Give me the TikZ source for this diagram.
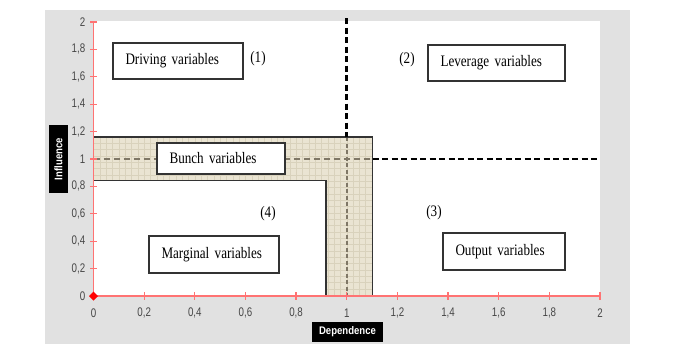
\documentclass[tikz,border=0pt]{standalone}
\usepackage{fontspec}
\setmainfont{Liberation Serif}
\newfontfamily\ticksf[FakeStretch=0.78]{Liberation Sans}
\newfontfamily\labsf[FakeStretch=0.87]{Liberation Sans}
\newfontfamily\boxserif[FakeStretch=0.82]{Liberation Serif}
\definecolor{bggray}{HTML}{E1E1E1}
\definecolor{axred}{HTML}{FF7373}
\definecolor{beige}{HTML}{EAE4D2}
\definecolor{beigegrid}{HTML}{D9D2BC}
\definecolor{dashgray}{HTML}{7F7766}
\definecolor{boxline}{HTML}{333333}
\tikzset{
  vbox/.style={draw=boxline, line width=1.2pt, fill=white, inner xsep=12.5pt, inner ysep=0pt,
    align=left, font=\boxserif\fontsize{16}{18}\selectfont},
  numlab/.style={font=\boxserif\fontsize{16}{18}\selectfont, inner sep=0pt},
  ticklab/.style={font=\ticksf\fontsize{12.5}{13}\selectfont, text=black!72, inner sep=0pt},
  axlab/.style={fill=black, text=white, inner sep=0pt, font=\labsf\bfseries\fontsize{11}{12}\selectfont},
  blackdash/.style={line width=2.6pt, dash pattern=on 6pt off 3.5pt},
  graydash/.style={dashgray, line width=2.4pt, dash pattern=on 6pt off 4pt},
  redaxis/.style={axred, line width=1.3pt}
}
\begin{document}
\begin{tikzpicture}[x=1pt,y=-1pt]
\useasboundingbox (0,0) rectangle (696,349);
\fill[white] (0,0) rectangle (696,349);
% gray panel and white plot area
\fill[bggray] (45,10) rectangle (630,344);
\fill[white] (93.5,21) rectangle (600,296);
% bunch L-shaped region
\fill[beige] (93.5,137) -- (372.7,137) -- (372.7,296) -- (326,296) -- (326,180.3) -- (93.5,180.3) -- cycle;
\begin{scope}
\clip (93.5,137) -- (372.7,137) -- (372.7,296) -- (326,296) -- (326,180.3) -- (93.5,180.3) -- cycle;
\foreach \gx in {0,...,46} { \draw[beigegrid, line width=0.4pt] ({93.5+6.33*\gx},130) -- ({93.5+6.33*\gx},300); }
\foreach \gy in {0,...,30} { \draw[beigegrid, line width=0.4pt] (90,{137+6.33*\gy}) -- (380,{137+6.33*\gy}); }
\end{scope}
% gray dashed lines inside bunch
\draw[graydash] (93.5,159) -- (372.7,159);
\draw[graydash, dash pattern=on 4pt off 2.5pt] (346.75,137) -- (346.75,296);
\draw[boxline, line width=1.2pt] (93.5,137) -- (372.7,137) -- (372.7,296) -- (326,296) -- (326,180.3) -- (93.5,180.3);
% black dashed quadrant lines
\coordinate (vtop) at (346.75,18);
\coordinate (vbot) at (346.75,137);
\coordinate (hl) at (372.7,159);
\coordinate (hr) at (600,159);
\draw[blackdash] (vtop) -- (vbot);
\draw[blackdash] (hl) -- (hr);
% axes
\coordinate (o) at (93.5,296);
\coordinate (xe) at (600,296);
\coordinate (ye) at (93.5,22);
\draw[redaxis] (o) -- (xe);
\draw[redaxis] (o) -- (ye);
\foreach \i/\lab in {0/0,1/{0,2},2/{0,4},3/{0,6},4/{0,8},5/1,6/{1,2},7/{1,4},8/{1,6},9/{1,8},10/2} {
  \draw[redaxis] ({93.5+50.65*\i},292) -- ({93.5+50.65*\i},300);
  \node[ticklab] (xt\i) at ({93.5+50.65*\i},313) {\lab};
  \draw[redaxis] (90,{296-27.4*\i}) -- (97,{296-27.4*\i});
  \node[ticklab, anchor=east] (yt\i) at (85.5,{296-27.4*\i}) {\lab};
}
\fill[red] (o) +(-4.5,0) -- +(0,-4.5) -- +(4.5,0) -- +(0,4.5) -- cycle;
% axis labels
\node[axlab, minimum width=71pt, minimum height=20pt] (dep) at (347.5,332) {Dependence};
\node[axlab, rotate=90, minimum width=68pt, minimum height=19pt] (inf) at (58.5,159) {Influence};
% text boxes
\node[vbox, text width=105pt, minimum height=36pt] (drv) at (178,61) {Driving variables};
\node[vbox, text width=112pt, minimum height=36pt] (lev) at (496.5,63) {Leverage variables};
\node[vbox, text width=103pt, minimum height=31pt] (bun) at (221,158.5) {Bunch variables};
\node[vbox, text width=105pt, minimum height=37pt] (mar) at (214,254.5) {Marginal variables};
\node[vbox, text width=97pt, minimum height=37pt] (out) at (504,251.5) {Output variables};
% quadrant numbers
\node[numlab] (n1) at (258,59) {(1)};
\node[numlab] (n2) at (407,60) {(2)};
\node[numlab] (n3) at (434,213) {(3)};
\node[numlab] (n4) at (268,214) {(4)};
\end{tikzpicture}
\end{document}
